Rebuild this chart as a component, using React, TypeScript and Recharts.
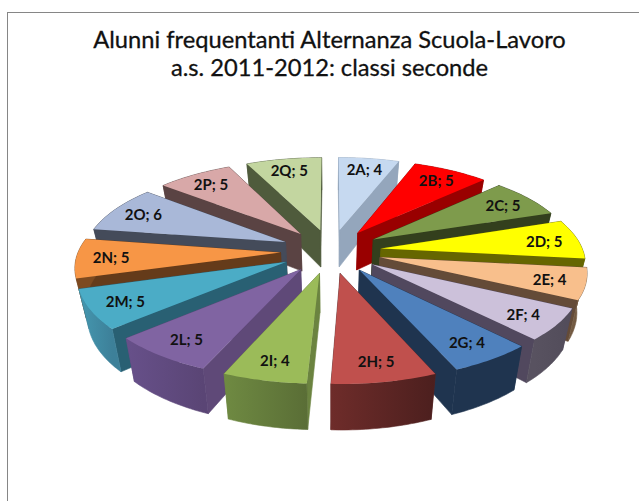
import { PieChart, Pie } from 'recharts'

const classi = ['2A', '2B', '2C', '2D', '2E', '2F', '2G', '2H', '2I', '2L', '2M', '2N', '2O', '2P', '2Q']
const alunni = [4, 5, 5, 5, 4, 4, 4, 5, 4, 5, 5, 5, 6, 5, 5]
const titleLines = ['Alunni frequentanti Alternanza Scuola-Lavoro', 'a.s. 2011-2012: classi seconde']

const topColors = ['#c6d9f0', '#ff0000', '#7e9b4c', '#ffff00', '#f8bf8c', '#ccc1da', '#4f81bd', '#c0504d', '#9bbb59', '#8064a2', '#4bacc6', '#f79646', '#a9b8d8', '#d8a8a8', '#c3d6a0']
const sideColors = ['#94a6bc', '#990000', '#333f1d', '#666600', '#644b38', '#51485e', '#1f344f', '#5a2626', '#6b8340', '#5f4978', '#296073', '#653b1a', '#444b5a', '#5a4343', '#4f5b3c']
// outer wall shading, left to right
const wallLeft = ['#94a6bc', '#990000', '#333f1d', '#666600', '#735a42', '#585260', '#1f344f', '#6e2c2a', '#6f8a42', '#67508a', '#4598b0', '#7d4a20', '#444b5a', '#5a4343', '#4f5b3c']
const wallRight = ['#94a6bc', '#990000', '#333f1d', '#666600', '#735a42', '#524c5a', '#1f344f', '#4c1f1e', '#5a6e36', '#5a4575', '#3d8099', '#7d4a20', '#444b5a', '#5a4343', '#4f5b3c']

const SPLIT = 8 // 2A..2H on the right, 2I..2Q on the left
const total = alunni.reduce((a, b) => a + b, 0)
const rightData = classi.slice(0, SPLIT).map((name, i) => ({ name, value: alunni[i] }))
const leftData = classi.slice(SPLIT).map((name, i) => ({ name, value: alunni[i + SPLIT] })).reverse()
const sweep = (rows: { value: number }[]) => (rows.reduce((a, r) => a + r.value, 0) / total) * 360

// fake 3D: perspective projection of the flat pie
const EXPLODE = 0.25
const PERSP = 0.14
const TILT = 0.436
const DEPTH = 38
const BOTTOM_SHRINK = 0.96

function Wedge3D(props: any) {
  const { cx, cy, outerRadius: R, startAngle, endAngle, payload } = props
  const name = payload?.name ?? props.name
  const idx = classi.indexOf(name)
  const a0 = ((90 - startAngle) * Math.PI) / 180
  const a1 = ((90 - endAngle) * Math.PI) / 180
  const mid = (a0 + a1) / 2
  const ex = EXPLODE * Math.sin(mid)
  const ey = EXPLODE * Math.cos(mid)
  const project = (u: number, v: number, low: boolean) => {
    const w = 1 + PERSP * v
    const k = low ? BOTTOM_SHRINK : 1
    return [cx + (u * R * k) / w, cy - (v * R * TILT) / w + (low ? DEPTH / w : 0)]
  }
  const at = (a: number, r: number, low: boolean) => project(ex + r * Math.sin(a), ey + r * Math.cos(a), low)
  const pts = (list: number[][]) => list.map(p => `${p[0].toFixed(1)},${p[1].toFixed(1)}`).join(' ')

  const arcTop: number[][] = []
  const arcLow: number[][] = []
  for (let i = 0; i <= 24; i++) {
    const a = a0 + ((a1 - a0) * i) / 24
    arcTop.push(at(a, 1, false))
    arcLow.push(at(a, 1, true))
  }
  const apexTop = at(0, 0, false)
  const apexLow = at(0, 0, true)
  const gradId = `wall-${name}`
  const xs = arcTop.map(p => p[0])
  const wall = (
    <polygon
      points={pts([...arcTop, ...[...arcLow].reverse()])}
      fill={`url(#${gradId})`}
      stroke={`url(#${gradId})`}
      strokeWidth={0.6}
    />
  )
  const sides = (
    <>
      <polygon points={pts([apexTop, arcTop[0], arcLow[0], apexLow])} fill={sideColors[idx]} stroke={sideColors[idx]} strokeWidth={0.6} />
      <polygon points={pts([apexTop, arcTop[24], arcLow[24], apexLow])} fill={sideColors[idx]} stroke={sideColors[idx]} strokeWidth={0.6} />
    </>
  )
  const back = Math.cos(mid) > 0
  const lab = at(mid, 0.83, false)

  return (
    <g>
      <defs>
        <linearGradient id={gradId} gradientUnits="userSpaceOnUse" x1={Math.min(...xs)} y1={0} x2={Math.max(...xs)} y2={0}>
          <stop offset="0%" stopColor={wallLeft[idx]} />
          <stop offset="100%" stopColor={wallRight[idx]} />
        </linearGradient>
      </defs>
      {back ? wall : sides}
      {back ? sides : wall}
      <polygon points={pts([apexTop, ...arcTop])} fill={topColors[idx]} />
      <text x={lab[0]} y={lab[1] + 6} textAnchor="middle" fontFamily="Lato" fontWeight={700} fontSize={15} fill="#111111">
        {`${name}; ${alunni[idx]}`}
      </text>
    </g>
  )
}

export default function App() {
  return (
    <div style={{ position: 'absolute', left: 0, top: 0, width: 639, height: 501, background: '#fff', overflow: 'hidden' }}>
      <div style={{ position: 'absolute', left: 7, top: 12, width: 640, height: 500, borderLeft: '1px solid #868686', borderTop: '1px solid #868686' }} />
      <div style={{ position: 'absolute', left: 0, top: 0 }}>
        <PieChart width={639} height={501} margin={{ top: 0, right: 0, bottom: 0, left: 0 }}>
          <text x={329.5} y={48} textAnchor="middle" fontFamily="Lato" fontSize={23.7} fill="#111111" stroke="#111111" strokeWidth={0.3}>{titleLines[0]}</text>
          <text x={329.5} y={76} textAnchor="middle" fontFamily="Lato" fontSize={23.7} fill="#111111" stroke="#111111" strokeWidth={0.3}>{titleLines[1]}</text>
          <Pie
            data={leftData}
            dataKey="value"
            nameKey="name"
            cx={331}
            cy={251}
            outerRadius={202}
            startAngle={90}
            endAngle={90 + sweep(leftData)}
            stroke="none"
            shape={Wedge3D}
            isAnimationActive={false}
          />
          <Pie
            data={rightData}
            dataKey="value"
            nameKey="name"
            cx={331}
            cy={251}
            outerRadius={202}
            startAngle={90}
            endAngle={90 - sweep(rightData)}
            stroke="none"
            shape={Wedge3D}
            isAnimationActive={false}
          />
        </PieChart>
      </div>
    </div>
  )
}
